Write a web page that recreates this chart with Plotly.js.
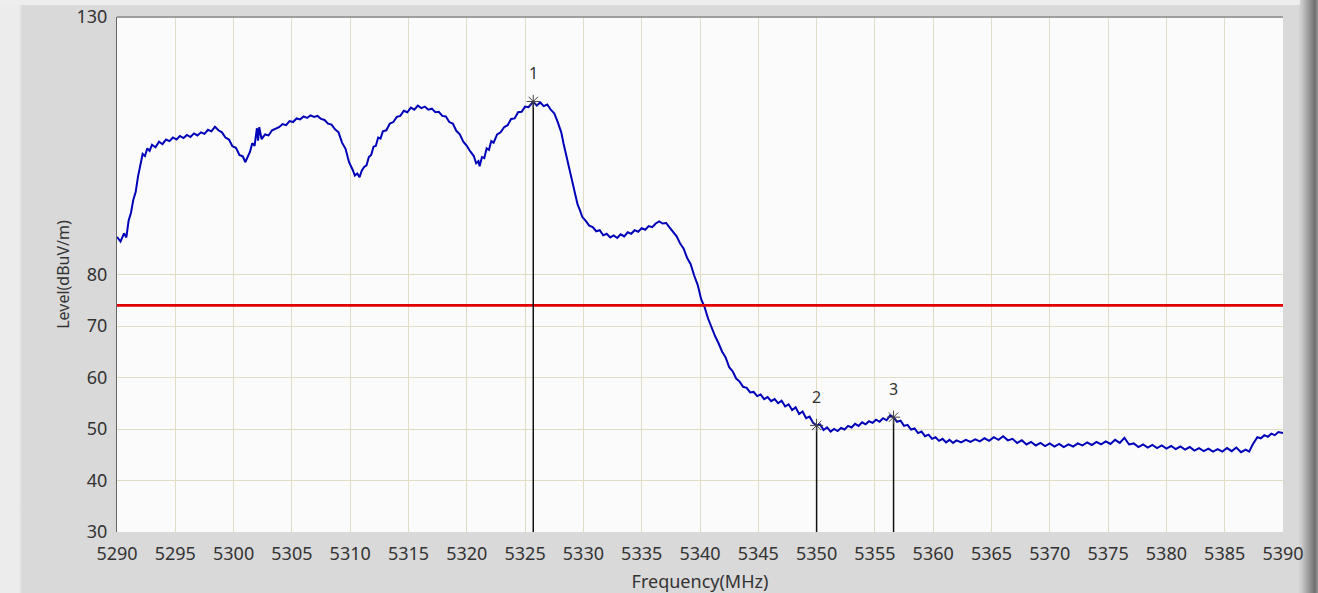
<!DOCTYPE html>
<html>
<head>
<meta charset="utf-8">
<script src="https://cdn.plot.ly/plotly-3.0.1.min.js"></script>
<style>
  html, body { margin: 0; padding: 0; }
  body {
    width: 1318px; height: 593px; overflow: hidden; position: relative;
    background: linear-gradient(to right, #ececec 0px, #ececec 19px, #d9d9d9 22px, #d9d9d9 1298px, #c9c9c9 1302px, #8a8a8a 1311px, #6e6e6e 1315px, #9a9a9a 1318px);
  }
  #topstrip { position: absolute; left: 0; top: 0; width: 1300px; height: 5px; background: #ededed; }
  #chart { position: absolute; left: 0; top: 0; width: 1318px; height: 593px; }
</style>
</head>
<body>
<div id="topstrip"></div>
<div id="chart"></div>
<script>
// ---- data ----
const freqMHz = [
5290.0,5290.3,5290.6,5290.8,5291.0,5291.2,5291.4,5291.6,5291.8,5292.0,5292.2,5292.4,5292.6,5292.8,5293.0,5293.3,5293.6,5293.9,5294.2,5294.5,5294.8,5295.1,5295.4,5295.7,5296.0,5296.3,5296.6,5296.9,5297.2,5297.5,5297.8,5298.1,5298.4,5298.7,5299.0,5299.3,5299.6,5299.9,5300.2,5300.5,5300.8,5301.0,5301.2,5301.4,5301.6,5301.8,5302.0,5302.1,5302.2,5302.4,5302.7,5303.0,5303.3,5303.6,5303.9,5304.2,5304.5,5304.8,5305.1,5305.4,5305.7,5306.0,5306.3,5306.6,5306.9,5307.2,5307.5,5307.8,5308.1,5308.4,5308.7,5309.0,5309.3,5309.6,5309.9,5310.2,5310.4,5310.6,5310.8,5311.0,5311.2,5311.4,5311.6,5311.8,5312.0,5312.2,5312.4,5312.6,5312.8,5313.1,5313.4,5313.7,5314.0,5314.3,5314.6,5314.9,5315.2,5315.5,5315.8,5316.1,5316.4,5316.7,5317.0,5317.3,5317.6,5317.9,5318.2,5318.5,5318.8,5319.1,5319.4,5319.7,5320.0,5320.3,5320.6,5320.8,5321.0,5321.1,5321.3,5321.5,5321.7,5321.9,5322.1,5322.3,5322.6,5322.9,5323.2,5323.5,5323.8,5324.1,5324.4,5324.7,5325.0,5325.3,5325.7,5326.0,5326.3,5326.6,5326.9,5327.2,5327.5,5327.8,5328.1,5328.3,5328.5,5328.7,5328.9,5329.1,5329.3,5329.5,5329.7,5329.9,5330.2,5330.5,5330.8,5331.1,5331.4,5331.7,5332.0,5332.3,5332.6,5332.9,5333.2,5333.5,5333.8,5334.1,5334.4,5334.7,5335.0,5335.3,5335.6,5335.9,5336.2,5336.5,5336.8,5337.1,5337.4,5337.7,5338.0,5338.3,5338.6,5338.9,5339.2,5339.5,5339.8,5340.1,5340.4,5340.7,5341.0,5341.3,5341.6,5341.9,5342.2,5342.5,5342.8,5343.1,5343.4,5343.7,5344.0,5344.3,5344.6,5344.9,5345.2,5345.5,5345.8,5346.1,5346.4,5346.7,5347.0,5347.3,5347.6,5347.9,5348.2,5348.5,5348.8,5349.1,5349.4,5349.7,5350.0,5350.3,5350.6,5350.9,5351.2,5351.5,5351.8,5352.1,5352.4,5352.7,5353.0,5353.3,5353.6,5353.9,5354.2,5354.5,5354.8,5355.1,5355.4,5355.7,5356.0,5356.3,5356.6,5356.9,5357.2,5357.5,5357.8,5358.1,5358.4,5358.7,5359.0,5359.3,5359.6,5359.9,5360.2,5360.5,5360.8,5361.1,5361.4,5361.7,5362.0,5362.4,5362.8,5363.2,5363.6,5364.0,5364.4,5364.8,5365.2,5365.6,5366.0,5366.4,5366.8,5367.2,5367.6,5368.0,5368.4,5368.8,5369.2,5369.6,5370.0,5370.4,5370.8,5371.2,5371.6,5372.0,5372.4,5372.8,5373.2,5373.6,5374.0,5374.4,5374.8,5375.2,5375.6,5376.0,5376.4,5376.8,5377.2,5377.6,5378.0,5378.4,5378.8,5379.2,5379.6,5380.0,5380.4,5380.8,5381.2,5381.6,5382.0,5382.4,5382.8,5383.2,5383.6,5384.0,5384.4,5384.8,5385.2,5385.6,5386.0,5386.4,5386.8,5387.1,5387.4,5387.6,5387.8,5388.1,5388.4,5388.7,5389.0,5389.3,5389.6,5390.0
];
const levelDbuV = [
87.3,86.4,88.0,87.2,90.5,92.0,94.5,96.0,99.0,101.6,103.4,103.0,104.5,104.0,105.2,104.7,105.8,105.3,106.2,105.9,106.6,106.2,106.9,106.5,107.1,106.7,107.4,107.0,107.6,107.3,108.1,107.8,108.7,108.0,107.6,106.6,106.2,104.9,104.6,103.2,102.9,101.8,103.0,103.8,105.5,105.0,108.4,106.0,108.6,106.3,107.2,107.0,108.0,108.3,108.6,109.2,109.0,109.8,109.6,110.3,110.1,110.7,110.4,110.9,110.6,110.8,110.2,110.0,109.3,109.1,108.2,107.6,105.6,104.4,101.8,100.4,99.2,99.6,98.9,100.2,100.9,101.2,102.8,103.2,104.8,105.0,106.6,106.4,107.8,108.0,109.3,109.6,110.6,110.8,111.8,111.5,112.4,112.0,112.8,112.3,112.6,112.0,112.2,111.5,111.6,110.8,110.7,109.6,109.3,107.9,107.2,105.8,105.0,103.9,103.0,101.6,102.0,101.0,102.8,102.6,104.5,104.2,105.9,105.6,107.2,107.6,108.6,109.0,110.2,110.3,111.5,111.6,112.6,112.5,113.6,112.8,113.4,112.7,113.0,112.0,111.3,109.6,107.6,105.4,103.5,101.0,99.6,97.2,95.8,93.6,92.5,91.2,90.4,89.5,89.2,88.4,88.6,87.6,87.9,87.2,87.6,87.1,87.8,87.4,88.2,87.9,88.6,88.3,89.0,88.7,89.4,89.2,89.9,90.3,89.9,90.0,89.1,88.2,87.4,86.0,85.0,83.2,82.0,79.8,78.0,75.2,73.6,71.4,69.6,68.0,66.6,65.0,63.9,62.0,61.2,59.8,59.2,58.2,58.0,57.1,57.2,56.4,56.7,55.8,56.2,55.4,55.8,55.0,55.5,54.4,54.8,53.7,54.2,52.9,53.4,52.1,52.4,51.2,50.7,50.9,49.8,50.3,49.5,50.0,49.6,50.2,49.9,50.6,50.3,51.0,50.6,51.3,50.9,51.5,51.2,51.8,51.4,52.1,51.7,52.6,52.3,51.4,51.6,50.6,50.8,49.9,50.1,49.2,49.5,48.6,48.9,48.1,48.4,47.7,48.1,47.4,47.9,47.3,47.8,47.4,47.9,47.5,48.0,47.6,48.2,47.7,48.4,47.9,48.6,47.8,48.1,47.3,47.8,47.0,47.5,46.8,47.3,46.7,47.2,46.6,47.1,46.5,47.0,46.6,47.2,46.8,47.4,46.9,47.5,47.0,47.6,47.1,47.9,47.3,48.3,47.0,47.2,46.5,47.0,46.4,46.9,46.3,46.8,46.2,46.7,46.1,46.6,46.0,46.5,45.8,46.3,45.7,46.2,45.6,46.1,45.6,46.3,45.7,46.4,45.5,46.0,45.6,47.0,47.8,48.4,48.2,48.8,48.5,49.1,48.8,49.4,49.2
];
const limitLevel = 74;
const markerLabels = ["1", "2", "3"];
const markerFreq = [5325.7, 5350.0, 5356.6];
const markerLevel = [113.6, 50.7, 52.3];
const xRange = [5290, 5390];
const yRange = [30, 130];
const yTickVals = [30, 40, 50, 60, 70, 80, 130];

// ---- traces ----
const traces = [];
traces.push({
  x: freqMHz, y: levelDbuV, type: 'scatter', mode: 'lines',
  line: {color: 'rgb(0,0,185)', width: 2}, hoverinfo: 'x+y', showlegend: false
});
traces.push({
  x: xRange, y: [limitLevel, limitLevel], type: 'scatter', mode: 'lines',
  line: {color: 'rgb(225,0,0)', width: 2.6}, showlegend: false
});
markerFreq.forEach((f, i) => {
  traces.push({
    x: [f, f], y: [yRange[0], markerLevel[i]], type: 'scatter', mode: 'lines',
    line: {color: '#111', width: 1.5}, showlegend: false
  });
});
traces.push({
  x: markerFreq, y: markerLevel, type: 'scatter', mode: 'markers',
  marker: {symbol: 'asterisk-open', size: 11, color: '#444', line: {color: '#444', width: 1}},
  showlegend: false
});

const annotations = markerLabels.map((t, i) => ({
  x: markerFreq[i], y: markerLevel[i], xref: 'x', yref: 'y', text: t,
  showarrow: false, yshift: 28, font: {family: 'Noto Sans, sans-serif', size: 16, color: '#333'}
}));

const layout = {
  width: 1318, height: 593,
  margin: {l: 117, r: 35, t: 17, b: 61, pad: 0},
  paper_bgcolor: 'rgba(0,0,0,0)',
  plot_bgcolor: '#fbfbfb',
  font: {family: 'Noto Sans, sans-serif', color: '#333'},
  xaxis: {
    range: xRange, dtick: 5, tick0: 5290, tickformat: 'd',
    showgrid: true, gridcolor: '#e0dcc6', gridwidth: 1, zeroline: false,
    showline: false, ticks: 'outside', ticklen: 5, tickcolor: 'rgba(0,0,0,0)',
    tickfont: {size: 18, color: '#333'},
    title: {text: 'Frequency(MHz)', font: {size: 18, color: '#333'}, standoff: 11},
    automargin: false, fixedrange: true
  },
  yaxis: {
    range: yRange, tickmode: 'array', tickvals: yTickVals,
    showgrid: true, gridcolor: '#e0dcc6', gridwidth: 1, zeroline: false,
    showline: true, linecolor: '#666', linewidth: 1,
    ticks: 'outside', ticklen: 5, tickcolor: 'rgba(0,0,0,0)',
    tickfont: {size: 18, color: '#333'},
    title: {text: 'Level(dBuV/m)', font: {size: 16, color: '#333'}, standoff: 2},
    automargin: false, fixedrange: true
  },
  shapes: [
    {type: 'line', xref: 'paper', yref: 'paper', x0: 0, x1: 1, y0: 1, y1: 1,
     line: {color: '#9e9e9e', width: 2}}
  ],
  annotations: annotations,
  showlegend: false
};

Plotly.newPlot('chart', traces, layout, {displayModeBar: false, staticPlot: true});
</script>
</body>
</html>
